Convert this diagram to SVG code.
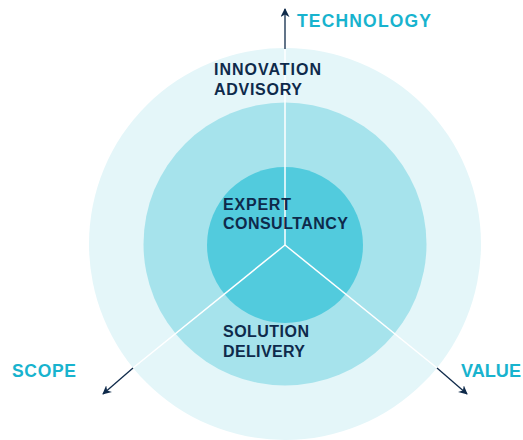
<svg xmlns="http://www.w3.org/2000/svg" width="523" height="440" viewBox="0 0 523 440">
<defs>
<marker id="ah" viewBox="0 0 10 10" refX="9" refY="5" markerWidth="9" markerHeight="9" markerUnits="userSpaceOnUse" orient="auto">
<path d="M0,0 L10,5 L0,10 L3,5 Z" fill="#0F2A4A"/>
</marker>
</defs>
<style>
.lbl{font-family:"Liberation Sans",Arial,sans-serif;font-weight:bold;font-size:16px;fill:#0E2A4B}
.axis{font-family:"Liberation Sans",Arial,sans-serif;font-weight:bold;font-size:17.5px;fill:#18B3CE}
.sep{stroke:#FFFFFF;stroke-width:1.5;fill:none}
.arr{stroke:#0F2A4A;stroke-width:1.3;fill:none;marker-end:url(#ah)}
</style>
<rect width="523" height="440" fill="#FFFFFF"/>
<g id="outer"><circle cx="285" cy="244" r="196" fill="#E4F6F9"/></g>
<g id="middle"><circle cx="285" cy="244" r="141.5" fill="#A6E3EC"/></g>
<g id="inner"><circle cx="285" cy="245" r="78" fill="#52CBDD"/></g>
<g id="connectors">
<line class="sep" x1="285" y1="245" x2="285" y2="48"/>
<line class="sep" x1="285" y1="245" x2="133" y2="368"/>
<line class="sep" x1="285" y1="245" x2="437" y2="368"/>
<line class="arr" x1="285" y1="49" x2="285" y2="9"/>
<line class="arr" x1="133" y1="368" x2="103" y2="394"/>
<line class="arr" x1="437" y1="368" x2="467" y2="394"/>
</g>
<g id="innovation"><text class="lbl" x="214" y="75" textLength="107" lengthAdjust="spacing">INNOVATION</text><text class="lbl" x="214" y="95" textLength="88" lengthAdjust="spacing">ADVISORY</text></g>
<g id="expert"><text class="lbl" x="223" y="210" textLength="68" lengthAdjust="spacing">EXPERT</text><text class="lbl" x="223" y="229" textLength="125" lengthAdjust="spacing">CONSULTANCY</text></g>
<g id="solution"><text class="lbl" x="223" y="337" textLength="86" lengthAdjust="spacing">SOLUTION</text><text class="lbl" x="223" y="357" textLength="82" lengthAdjust="spacing">DELIVERY</text></g>
<g id="technology"><text class="axis" x="297" y="27" textLength="134" lengthAdjust="spacing">TECHNOLOGY</text></g>
<g id="scope"><text class="axis" x="12" y="377" textLength="64" lengthAdjust="spacing">SCOPE</text></g>
<g id="value"><text class="axis" x="461" y="377" textLength="60" lengthAdjust="spacingAndGlyphs">VALUE</text></g>
</svg>
